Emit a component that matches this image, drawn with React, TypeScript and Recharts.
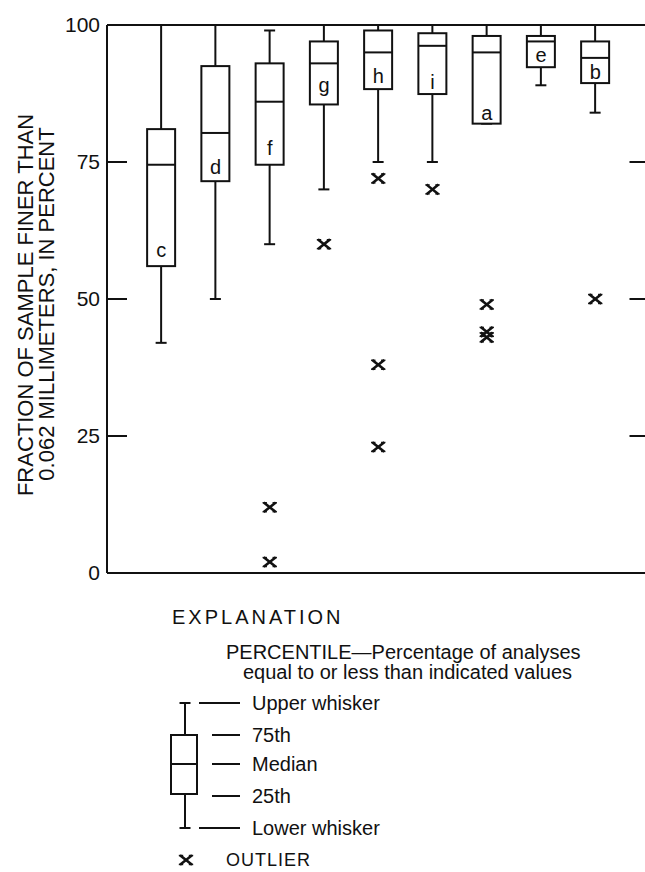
import React from 'react';
import { ComposedChart, Bar, Scatter, XAxis, YAxis, ReferenceLine } from 'recharts';

// ---- data ----
const categories = ['c', 'd', 'f', 'g', 'h', 'i', 'a', 'e', 'b'];
const lowerWhisker = [42, 50, 60, 70, 75, 75, 82, 89, 84];
const percentile25 = [56, 71.5, 74.5, 85.5, 88.3, 87.4, 82, 92.3, 89.4];
const medians = [74.5, 80.3, 86, 93, 95, 96.2, 95, 97, 94];
const percentile75 = [81, 92.5, 93, 97, 99, 98.5, 98, 98, 97];
const upperWhisker = [100, 100, 99, 100, 100, 100, 100, 100, 100];
const labelValues = [59, 74, 77.5, 89, 90.7, 89.6, 84, 94.5, 91.4];
const outlierCategory = ['f', 'f', 'g', 'h', 'h', 'h', 'i', 'a', 'a', 'a', 'b'];
const outlierValues = [12, 2, 60, 72, 38, 23, 70, 49, 44, 43, 50];
const yTicks = [0, 25, 50, 75, 100];
const rightTicks = [25, 50, 75];

const FONT = '"Liberation Sans", Arial, Helvetica, sans-serif';
const INK = '#111';

const boxRows = categories.map((name, i) => ({
  name,
  pos: i + 1,
  range: [lowerWhisker[i], upperWhisker[i]],
  lw: lowerWhisker[i],
  q1: percentile25[i],
  med: medians[i],
  q3: percentile75[i],
  uw: upperWhisker[i],
}));

const outlierRows = outlierCategory.map((c, i) => ({
  pos: categories.indexOf(c) + 1,
  value: outlierValues[i],
}));

const labelRows = categories.map((name, i) => ({
  pos: i + 1,
  value: labelValues[i],
  letter: name,
}));

const BoxShape = (props: any) => {
  const { x, y, width, height, payload } = props;
  if (x == null || y == null) return null;
  const top = Math.min(y, y + height);
  const bottom = Math.max(y, y + height);
  const { lw, uw, q1, med, q3 } = payload;
  const px = (v: number) => (uw === lw ? bottom : bottom - ((v - lw) / (uw - lw)) * (bottom - top));
  const cx = x + width / 2;
  const cap = 5.5;
  const yq1 = px(q1);
  const yq3 = px(q3);
  const ym = px(med);
  return (
    <g stroke={INK} strokeWidth={2} fill="none">
      <line x1={cx} x2={cx} y1={top} y2={yq3} />
      <line x1={cx} x2={cx} y1={yq1} y2={bottom} />
      <line x1={cx - cap} x2={cx + cap} y1={top} y2={top} />
      <line x1={cx - cap} x2={cx + cap} y1={bottom} y2={bottom} />
      <rect x={x} y={yq3} width={width} height={Math.max(0, yq1 - yq3)} fill="#fff" />
      <line x1={x} x2={x + width} y1={ym} y2={ym} />
    </g>
  );
};

const OutlierMark = ({ cx, cy }: { cx: number; cy: number }) => (
  <g stroke={INK} fill="none" strokeLinecap="square">
    <line x1={cx - 5} y1={cy - 4} x2={cx + 5} y2={cy + 4} strokeWidth={2.6} />
    <line x1={cx - 5} y1={cy + 4} x2={cx + 5} y2={cy - 4} strokeWidth={2.6} />
    <line x1={cx - 6.5} y1={cy - 4.5} x2={cx - 3.5} y2={cy - 4.5} strokeWidth={1.4} />
    <line x1={cx + 3.5} y1={cy - 4.5} x2={cx + 6.5} y2={cy - 4.5} strokeWidth={1.4} />
    <line x1={cx - 6.5} y1={cy + 4.5} x2={cx - 3.5} y2={cy + 4.5} strokeWidth={1.4} />
    <line x1={cx + 3.5} y1={cy + 4.5} x2={cx + 6.5} y2={cy + 4.5} strokeWidth={1.4} />
  </g>
);

const LeftTick = (props: any) => {
  const { x, y, payload } = props;
  const v = payload.value;
  return (
    <g>
      {v !== 0 && v !== 100 && (
        <line x1={x + 7} x2={x + 27} y1={y} y2={y} stroke={INK} strokeWidth={2} />
      )}
      <text x={x} y={y} dy={7} textAnchor="end" fontFamily={FONT} fontSize={21} fill={INK}>
        {v}
      </text>
    </g>
  );
};

const RightTickLine = (props: any) => {
  const xs = [props.x1, props.x2].filter((v: any) => typeof v === 'number');
  const yy = typeof props.y1 === 'number' ? props.y1 : props.y2;
  if (!xs.length || typeof yy !== 'number') return null;
  const xr = Math.max(...xs);
  return <line x1={xr - 20} x2={xr} y1={yy} y2={yy} stroke={INK} strokeWidth={2} />;
};

const LabelShape = (props: any) => {
  const { cx, cy, payload } = props;
  return (
    <text x={cx} y={cy} dy={7} textAnchor="middle" fontFamily={FONT} fontSize={20} fill={INK}>
      {payload.letter}
    </text>
  );
};

const legendRows = [
  { text: 'Upper whisker', y: 703, long: true },
  { text: '75th', y: 735, long: false },
  { text: 'Median', y: 764, long: false },
  { text: '25th', y: 796, long: false },
  { text: 'Lower whisker', y: 828, long: true },
];

export default function App() {
  return (
    <div
      style={{
        position: 'absolute',
        left: 0,
        top: 0,
        width: 645,
        height: 872,
        overflow: 'hidden',
        background: '#fff',
      }}
    >
      <ComposedChart
        width={660}
        height={872}
        data={boxRows}
        margin={{ top: 25, right: 10.5, bottom: 297, left: 47 }}
      >
        <XAxis
          xAxisId="x"
          dataKey="pos"
          type="number"
          domain={[0, 10]}
          allowDataOverflow
          tick={false}
          tickLine={false}
          height={2}
          axisLine={{ stroke: INK, strokeWidth: 2 }}
        />
        <YAxis
          yAxisId="left"
          type="number"
          domain={[0, 100]}
          ticks={yTicks}
          interval={0}
          width={60}
          tickSize={0}
          tickMargin={7}
          tickLine={false}
          axisLine={{ stroke: INK, strokeWidth: 2 }}
          tick={<LeftTick />}
        />
        <ReferenceLine xAxisId="x" yAxisId="left" y={100} stroke={INK} strokeWidth={2} />
        {rightTicks.map((v) => (
          <ReferenceLine
            key={v}
            xAxisId="x"
            yAxisId="left"
            y={v}
            stroke={INK}
            shape={(p: any) => <RightTickLine {...p} />}
          />
        ))}
        <Bar
          xAxisId="x"
          yAxisId="left"
          dataKey="range"
          barSize={28}
          shape={<BoxShape />}
          isAnimationActive={false}
        />
        <Scatter
          xAxisId="x"
          yAxisId="left"
          data={labelRows}
          dataKey="value"
          shape={<LabelShape />}
          isAnimationActive={false}
        />
        <Scatter
          xAxisId="x"
          yAxisId="left"
          data={outlierRows}
          dataKey="value"
          shape={(p: any) => <OutlierMark cx={p.cx} cy={p.cy} />}
          isAnimationActive={false}
        />
      </ComposedChart>
      <svg
        width={645}
        height={872}
        style={{ position: 'absolute', left: 0, top: 0, pointerEvents: 'none' }}
      >
        <g fontFamily={FONT} fill={INK}>
          <text x={25} y={305} transform="rotate(-90 25 305)" textAnchor="middle" dy={8} fontSize={22}>
            FRACTION OF SAMPLE FINER THAN
          </text>
          <text x={46} y={304} transform="rotate(-90 46 304)" textAnchor="middle" dy={8} fontSize={22}>
            0.062 MILLIMETERS, IN PERCENT
          </text>
          <text x={172} y={624} fontSize={20} letterSpacing={3}>
            EXPLANATION
          </text>
          <text x={226} y={659} fontSize={20}>
            PERCENTILE—Percentage of analyses
          </text>
          <text x={243} y={679} fontSize={20}>
            equal to or less than indicated values
          </text>
          {legendRows.map((r) => (
            <g key={r.text}>
              <line x1={r.long ? 199 : 212} x2={240} y1={r.y} y2={r.y} stroke={INK} strokeWidth={2} />
              <text x={252} y={r.y} dy={7} fontSize={20}>
                {r.text}
              </text>
            </g>
          ))}
          <text x={226} y={866} fontSize={18} letterSpacing={1}>
            OUTLIER
          </text>
        </g>
        <g stroke={INK} strokeWidth={2} fill="none">
          <line x1={185} x2={185} y1={703} y2={735} />
          <line x1={185} x2={185} y1={794} y2={828} />
          <line x1={179.5} x2={190.5} y1={703} y2={703} />
          <line x1={179.5} x2={190.5} y1={828} y2={828} />
          <rect x={171} y={735} width={26} height={59} />
          <line x1={171} x2={197} y1={764} y2={764} />
        </g>
        <OutlierMark cx={186} cy={860} />
      </svg>
    </div>
  );
}
